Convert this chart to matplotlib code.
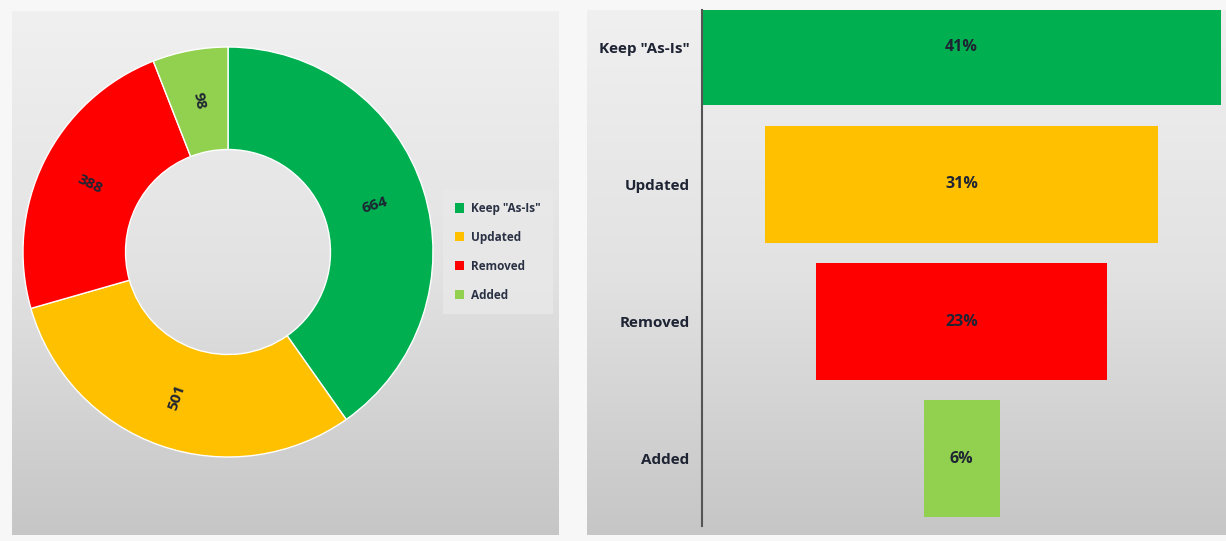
import numpy as np
import matplotlib
matplotlib.use("Agg")
import matplotlib.pyplot as plt
from matplotlib.colors import LinearSegmentedColormap
from matplotlib.patches import Patch

# data
categories = ['Keep "As-Is"', 'Updated', 'Removed', 'Added']
counts = [664, 501, 388, 98]
shares = [41, 31, 23, 6]
colors = ['#00B050', '#FFC000', '#FF0000', '#92D050']

W, H = 1226, 541
TEXT = '#1e2433'
plt.rcParams['font.family'] = ['Open Sans', 'DejaVu Sans']


def box(x0, y0, x1, y1):
    # pixel box (top-left origin) -> figure fraction rect
    return [x0 / W, 1 - y1 / H, (x1 - x0) / W, (y1 - y0) / H]


fig = plt.figure(figsize=(W / 100, H / 100), dpi=100, facecolor='#f7f7f7')

# gray gradient panels
grad = LinearSegmentedColormap.from_list('panel', ['#f0f0f0', '#e2e2e2', '#c6c6c6'])
for rect in [box(12, 11, 559, 535), box(587, 10, 1226, 535)]:
    bg = fig.add_axes(rect, zorder=0)
    g = np.linspace(0, 1, 256).reshape(-1, 1)
    g = np.hstack([g, g])
    bg.imshow(g, cmap=grad, aspect='auto', extent=[0, 1, 0, 1], origin='upper')
    bg.axis('off')

# donut
ax1 = fig.add_axes(box(23, 47, 433, 457), zorder=2)
wedges, _ = ax1.pie(counts, colors=colors, startangle=90, counterclock=False,
                    radius=1, wedgeprops=dict(width=0.5, edgecolor='white', linewidth=1))
for w, c in zip(wedges, counts):
    ang = (w.theta1 + w.theta2) / 2
    r = 0.75
    x, y = r * np.cos(np.radians(ang)), r * np.sin(np.radians(ang))
    rot = ang
    if 90 < (rot % 360) < 270:
        rot = rot - 180
    ax1.text(x, y, str(c), ha='center', va='center', rotation=rot,
             rotation_mode='anchor', fontsize=11, fontweight='bold', color=TEXT)
ax1.set_xlim(-1, 1)
ax1.set_ylim(-1, 1)
ax1.set_aspect('equal')
ax1.axis('off')

handles = [Patch(facecolor=c, edgecolor='none') for c in colors]
leg = fig.legend(handles, categories, loc='center left',
                 bbox_to_anchor=(437 / W, 1 - 252 / H), frameon=True,
                 facecolor='#e9e9e9', edgecolor='none', fancybox=False,
                 handlelength=0.8, handleheight=0.8, handletextpad=0.6,
                 labelspacing=1.35, borderpad=1.0,
                 prop=dict(size=8.5, weight='bold'))
for t in leg.get_texts():
    t.set_color('#2b3245')

# funnel
ax2 = fig.add_axes(box(702, 10, 1222, 526), zorder=2)
ax2.set_facecolor('none')
ypos = np.arange(len(categories))
vals = np.array(shares, dtype=float)
ax2.barh(ypos, vals, left=-vals / 2, height=0.85, color=colors)
for y, v in zip(ypos, shares):
    ax2.text(0, y, f'{v}%', ha='center', va='center', fontsize=11.5,
             fontweight='bold', color=TEXT)
ax2.set_xlim(-vals.max() / 2, vals.max() / 2 + 0.05)
ax2.set_ylim(3.49, -0.27)
ax2.set_yticks(ypos)
ax2.set_yticklabels(categories, fontsize=11, fontweight='bold', color=TEXT)
ax2.tick_params(axis='y', length=0, pad=9)
ax2.set_xticks([])
for s in ['top', 'right', 'bottom']:
    ax2.spines[s].set_visible(False)
ax2.spines['left'].set_color('#555555')
ax2.spines['left'].set_linewidth(1.5)

fig.savefig('out.png', dpi=100, facecolor=fig.get_facecolor())
